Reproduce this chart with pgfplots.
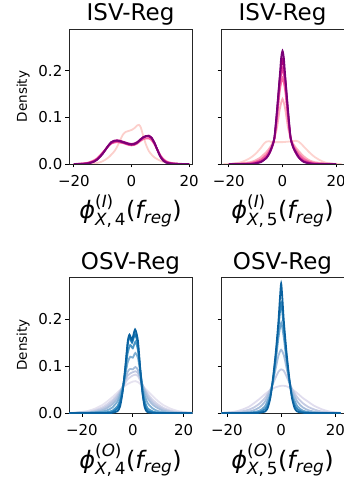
\documentclass[border=0pt]{standalone}
\usepackage{amsmath}
\usepackage{pgfplots}
\pgfplotsset{compat=1.18}
\usepackage{fontspec}
\setmainfont{DejaVu Sans}

\definecolor{F1}{HTML}{FCCFCB}
\definecolor{F2}{HTML}{F768A1}
\definecolor{F3}{HTML}{DD3497}
\definecolor{F4}{HTML}{C51B8A}
\definecolor{F5}{HTML}{AE017E}
\definecolor{F6}{HTML}{7A0177}
\definecolor{E1}{HTML}{FDD3CF}
\definecolor{E2}{HTML}{FBB0BD}
\definecolor{E3}{HTML}{F768A1}
\definecolor{E4}{HTML}{E0409A}
\definecolor{E5}{HTML}{AE017E}
\definecolor{E6}{HTML}{7A0177}
\definecolor{C1}{HTML}{E6E3F0}
\definecolor{C2}{HTML}{D6D6EA}
\definecolor{C3}{HTML}{C0C9E2}
\definecolor{C4}{HTML}{A6BDDB}
\definecolor{C5}{HTML}{7FAFD3}
\definecolor{C6}{HTML}{4A97C6}
\definecolor{C7}{HTML}{1A79B5}
\definecolor{C8}{HTML}{0A62A0}
\definecolor{D1}{HTML}{E0DDEE}
\definecolor{D2}{HTML}{C4CBE3}
\definecolor{D3}{HTML}{A6BDDB}
\definecolor{D4}{HTML}{6FA6CF}
\definecolor{D5}{HTML}{2F86BD}
\definecolor{D6}{HTML}{0A62A0}

\newcommand{\philab}[2]{$\text{\itshape ϕ}^{\text{(\itshape #1\upshape)}}_{\text{\itshape X\upshape,\,#2}}\text{(\itshape f\upshape}_{\text{\itshape reg}}\text{)}$}

\pgfplotsset{
  kde/.style={
    scale only axis, width=123pt, height=135pt,
    ymin=0, ymax=0.29,
    ytick={0,0.1,0.2},
    xtick={-20,0,20}, xticklabels={−20,0,20},
    tick align=outside, tick pos=left,
    major tick length=3.5pt,
    every tick/.style={black, line width=0.8pt},
    axis line style={black!85, line width=0.8pt},
    tick label style={font=\fontsize{15}{17}\selectfont},
    xticklabel style={anchor=base, inner sep=0pt, yshift=-19pt},
    yticklabel style={anchor=east, inner sep=0pt, xshift=-3pt},
    title style={font=\fontsize{23}{27}\selectfont, at={(0.5,1)}, anchor=base, yshift=2pt},
    xlabel style={font=\fontsize{24}{28}\selectfont, at={(0.5,0)}, anchor=base, yshift=-55pt},
    ylabel style={font=\fontsize{13.5}{16}\selectfont, at={(0,0.5)}, anchor=base, yshift=42pt},
    every axis plot/.append style={line width=1.8pt, smooth, tension=0.4, no marks},
  },
}

\begin{document}
\begin{tikzpicture}
\path[use as bounding box] (0,0) rectangle (344pt,480pt);

% ---------- top left ----------
\begin{axis}[kde, at={(69pt,316pt)}, anchor=south west,
  xmin=-21.7, xmax=21, yticklabels={0.0,0.1,0.2},
  title={ISV-Reg}, ylabel={Density}, xlabel={\philab{I}{4}}]
\addplot[F1] coordinates {(-20,0) (-16,0.0005) (-12,0.002) (-10,0.006) (-8,0.014) (-6,0.027) (-5,0.037) (-4,0.05) (-3,0.063) (-2,0.069) (-1,0.071) (0,0.073) (1,0.077) (2,0.083) (2.6,0.084) (3.2,0.079) (4,0.062) (5,0.042) (6,0.028) (7,0.02) (8,0.014) (10,0.007) (12,0.003) (14,0.001) (16,0.0003) (20,0)};
\addplot[F2] coordinates {(-20,0) (-17,0.001) (-15,0.003) (-13,0.008) (-12,0.012) (-11,0.018) (-10,0.025) (-9,0.032) (-8,0.039) (-7,0.044) (-6,0.046) (-5,0.047) (-4,0.046) (-3,0.045) (-2,0.043) (-1,0.041) (0,0.040) (1,0.041) (2,0.044) (3,0.049) (4,0.053) (5,0.055) (6,0.055) (7,0.051) (8,0.042) (9,0.031) (10,0.019) (11,0.011) (12,0.006) (14,0.002) (17,0.0003) (20,0)};
\addplot[F3] coordinates {(-20,0) (-17,0.0005) (-15,0.002) (-13,0.006) (-12,0.01) (-11,0.016) (-10,0.023) (-9,0.031) (-8,0.039) (-7,0.046) (-6,0.049) (-5,0.050) (-4,0.049) (-3,0.047) (-2,0.045) (-1,0.043) (0,0.042) (1,0.043) (2,0.046) (3,0.051) (4,0.056) (5,0.059) (6,0.059) (7,0.055) (8,0.044) (9,0.030) (10,0.017) (11,0.009) (12,0.004) (14,0.001) (17,0) (20,0)};
\addplot[F4] coordinates {(-20,0) (-17,0.0005) (-15,0.002) (-13,0.006) (-12,0.01) (-11,0.016) (-10,0.023) (-9,0.031) (-8,0.039) (-7,0.045) (-6,0.048) (-5,0.049) (-4,0.048) (-3,0.046) (-2,0.044) (-1,0.042) (0,0.041) (1,0.042) (2,0.046) (3,0.052) (4,0.057) (5,0.060) (6,0.060) (7,0.056) (8,0.044) (9,0.030) (10,0.017) (11,0.009) (12,0.004) (14,0.001) (17,0) (20,0)};
\addplot[F5] coordinates {(-20,0) (-17,0.0003) (-15,0.0015) (-13,0.0055) (-12,0.0095) (-11,0.0155) (-10,0.0225) (-9,0.031) (-8,0.040) (-7,0.047) (-6,0.050) (-5,0.051) (-4,0.050) (-3,0.048) (-2,0.046) (-1,0.044) (0,0.043) (1,0.044) (2,0.047) (3,0.052) (4,0.057) (5,0.060) (6,0.061) (7,0.056) (8,0.045) (9,0.030) (10,0.016) (11,0.008) (12,0.0035) (14,0.0008) (17,0) (20,0)};
\addplot[F6] coordinates {(-20,0) (-17,0) (-15,0.001) (-13,0.005) (-12,0.009) (-11,0.015) (-10,0.022) (-9,0.031) (-8,0.040) (-7,0.047) (-6,0.050) (-5,0.050) (-4,0.049) (-3,0.047) (-2,0.045) (-1,0.043) (0,0.042) (1,0.043) (2,0.046) (3,0.052) (4,0.057) (5,0.060) (6,0.060) (7,0.056) (8,0.045) (9,0.030) (10,0.016) (11,0.007) (12,0.003) (14,0.0005) (17,0) (20,0)};
\end{axis}

% ---------- top right ----------
\begin{axis}[kde, at={(221pt,316pt)}, anchor=south west,
  xmin=-22.9, xmax=22.9, yticklabels={},
  title={ISV-Reg}, xlabel={\philab{I}{5}}]
\addplot[E1] coordinates {(-22,0) (-20,0.0003) (-18,0.001) (-16,0.003) (-14,0.007) (-12,0.013) (-10,0.022) (-8,0.035) (-7,0.043) (-6,0.048) (-5,0.049) (-4,0.047) (-2,0.047) (0,0.047) (2,0.048) (4,0.049) (5,0.050) (6,0.048) (7,0.043) (8,0.037) (10,0.025) (12,0.015) (14,0.008) (16,0.003) (18,0.001) (20,0.0003) (22,0)};
\addplot[E2] coordinates {(-20,0) (-16,0.001) (-12,0.004) (-10,0.008) (-8,0.015) (-6,0.026) (-5,0.033) (-4,0.042) (-3,0.055) (-2,0.08) (-1,0.118) (0,0.14) (1,0.118) (2,0.08) (3,0.055) (4,0.043) (5,0.035) (6,0.028) (8,0.016) (10,0.008) (12,0.004) (16,0.001) (20,0)};
\addplot[E3] coordinates {(-20,0) (-14,0.001) (-12,0.002) (-10,0.005) (-8,0.01) (-6,0.02) (-5,0.028) (-4,0.038) (-3,0.055) (-2,0.1) (-1,0.158) (0,0.185) (1,0.158) (2,0.1) (3,0.057) (4,0.04) (5,0.03) (6,0.022) (8,0.011) (10,0.005) (12,0.002) (14,0.001) (20,0)};
\addplot[E4] coordinates {(-20,0) (-12,0.001) (-10,0.003) (-8,0.007) (-6,0.016) (-5,0.024) (-4,0.036) (-3,0.055) (-2,0.108) (-1,0.172) (0,0.205) (1,0.172) (2,0.108) (3,0.056) (4,0.037) (5,0.026) (6,0.017) (8,0.007) (10,0.003) (12,0.001) (20,0)};
\addplot[E5] coordinates {(-20,0) (-12,0) (-10,0.002) (-8,0.005) (-6,0.013) (-5,0.021) (-4,0.034) (-3,0.055) (-2,0.115) (-1,0.185) (0,0.225) (1,0.185) (2,0.115) (3,0.056) (4,0.035) (5,0.023) (6,0.014) (8,0.005) (10,0.002) (12,0) (20,0)};
\addplot[E6] coordinates {(-20,0) (-12,0) (-10,0.001) (-8,0.004) (-7,0.008) (-6,0.013) (-5,0.022) (-4,0.036) (-3,0.058) (-2,0.12) (-1,0.19) (-0.5,0.228) (0,0.243) (0.5,0.228) (1,0.19) (2,0.12) (3,0.058) (4,0.036) (5,0.025) (6,0.015) (7,0.008) (8,0.004) (10,0.001) (12,0) (20,0)};
\end{axis}

% ---------- bottom left ----------
\begin{axis}[kde, at={(69pt,67pt)}, anchor=south west, height=136pt,
  xmin=-25.1, xmax=23.3, yticklabels={0.0,0.1,0.2},
  title style={yshift=-1pt},
  title={OSV-Reg}, ylabel={Density}, xlabel={\philab{O}{4}}]
\addplot[C1] coordinates {(-25,0) (-22,0.001) (-18,0.004) (-15,0.009) (-12,0.017) (-10,0.025) (-8,0.034) (-6,0.044) (-4,0.054) (-2,0.062) (0,0.067) (1,0.068) (2,0.066) (4,0.057) (6,0.046) (8,0.035) (10,0.025) (12,0.017) (15,0.009) (18,0.004) (22,0.001) (25,0)};
\addplot[C2] coordinates {(-25,0) (-22,0.0005) (-18,0.002) (-15,0.006) (-12,0.012) (-10,0.019) (-8,0.028) (-6,0.040) (-4,0.055) (-2,0.072) (0,0.080) (1,0.082) (2,0.079) (4,0.058) (6,0.040) (8,0.027) (10,0.018) (12,0.011) (15,0.005) (18,0.002) (22,0.0005) (25,0)};
\addplot[C3] coordinates {(-25,0) (-18,0.001) (-15,0.004) (-12,0.009) (-10,0.015) (-8,0.024) (-6,0.037) (-4,0.056) (-2,0.08) (0,0.087) (1,0.089) (2,0.085) (4,0.058) (6,0.036) (8,0.022) (10,0.014) (12,0.008) (15,0.003) (18,0.001) (25,0)};
\addplot[C4] coordinates {(-25,0) (-18,0.0005) (-15,0.002) (-12,0.006) (-10,0.011) (-8,0.019) (-6,0.032) (-4,0.055) (-2,0.088) (-1,0.094) (0,0.093) (1,0.098) (2,0.092) (4,0.056) (6,0.030) (8,0.017) (10,0.010) (12,0.005) (15,0.002) (18,0.0005) (25,0)};
\addplot[C5] coordinates {(-25,0) (-15,0.001) (-12,0.003) (-10,0.006) (-8,0.012) (-6,0.025) (-5,0.038) (-4,0.055) (-3,0.08) (-2,0.108) (-1,0.12) (0,0.118) (1,0.128) (2,0.118) (3,0.085) (4,0.052) (5,0.032) (6,0.02) (8,0.009) (10,0.004) (12,0.002) (15,0.0005) (25,0)};
\addplot[C6] coordinates {(-25,0) (-12,0.001) (-10,0.002) (-8,0.005) (-6,0.015) (-5,0.028) (-4,0.05) (-3,0.085) (-2,0.128) (-1,0.145) (0,0.138) (1,0.152) (2,0.135) (3,0.09) (4,0.045) (5,0.02) (6,0.009) (8,0.003) (10,0.001) (12,0) (25,0)};
\addplot[C7] coordinates {(-25,0) (-10,0.0005) (-8,0.002) (-6,0.01) (-5,0.022) (-4,0.048) (-3,0.09) (-2,0.145) (-1.3,0.163) (-0.3,0.15) (0.9,0.168) (2,0.145) (3,0.085) (4,0.035) (5,0.012) (6,0.004) (8,0.001) (10,0) (25,0)};
\addplot[C8] coordinates {(-25,0) (-10,0) (-8,0.0005) (-6,0.004) (-5,0.014) (-4,0.045) (-3,0.095) (-2,0.152) (-1.3,0.167) (-0.3,0.156) (0.9,0.178) (2,0.155) (3,0.09) (3.7,0.05) (4.6,0.014) (5.5,0.003) (7,0.0005) (10,0) (25,0)};
\end{axis}

% ---------- bottom right ----------
\begin{axis}[kde, at={(221pt,67pt)}, anchor=south west, height=136pt,
  xmin=-22.2, xmax=23.2, yticklabels={},
  title style={yshift=-1pt},
  title={OSV-Reg}, xlabel={\philab{O}{5}}]
\addplot[D1] coordinates {(-22,0.0005) (-18,0.002) (-15,0.006) (-12,0.013) (-10,0.021) (-8,0.030) (-6,0.040) (-4,0.049) (-2,0.055) (0,0.058) (1,0.058) (2,0.057) (4,0.051) (6,0.042) (8,0.032) (10,0.024) (12,0.016) (15,0.008) (18,0.003) (22,0.0005)};
\addplot[D2] coordinates {(-22,0) (-20,0.0005) (-15,0.003) (-12,0.007) (-10,0.012) (-8,0.02) (-6,0.032) (-4,0.05) (-2,0.076) (-1,0.088) (0,0.093) (1,0.09) (2,0.078) (4,0.052) (6,0.033) (8,0.021) (10,0.013) (12,0.008) (15,0.003) (20,0.0005) (22,0)};
\addplot[D3] coordinates {(-22,0) (-18,0.0005) (-15,0.001) (-12,0.003) (-10,0.006) (-8,0.012) (-6,0.024) (-4,0.047) (-3,0.068) (-2,0.095) (-1,0.122) (0,0.135) (1,0.123) (2,0.096) (3,0.07) (4,0.048) (6,0.024) (8,0.012) (10,0.006) (12,0.003) (15,0.001) (18,0) (22,0)};
\addplot[D4] coordinates {(-22,0) (-15,0) (-12,0.001) (-10,0.002) (-8,0.005) (-6,0.014) (-4,0.04) (-3,0.068) (-2,0.11) (-1,0.16) (0,0.192) (1,0.16) (2,0.11) (3,0.068) (4,0.04) (6,0.014) (8,0.005) (10,0.002) (12,0.001) (15,0) (22,0)};
\addplot[D5] coordinates {(-22,0) (-12,0) (-10,0.001) (-8,0.002) (-6,0.008) (-5,0.017) (-4,0.035) (-3,0.07) (-2,0.12) (-1,0.18) (0,0.235) (1,0.18) (2,0.12) (3,0.07) (4,0.035) (5,0.017) (6,0.008) (8,0.002) (10,0.001) (12,0) (22,0)};
\addplot[D6] coordinates {(-22,0) (-10,0) (-8,0.0005) (-6,0.003) (-5,0.01) (-4,0.032) (-3,0.075) (-2,0.128) (-1,0.195) (-0.5,0.24) (0,0.276) (0.5,0.24) (1,0.195) (2,0.128) (3,0.075) (4,0.032) (5,0.01) (6,0.003) (8,0.0005) (10,0) (22,0)};
\end{axis}
\end{tikzpicture}
\end{document}
